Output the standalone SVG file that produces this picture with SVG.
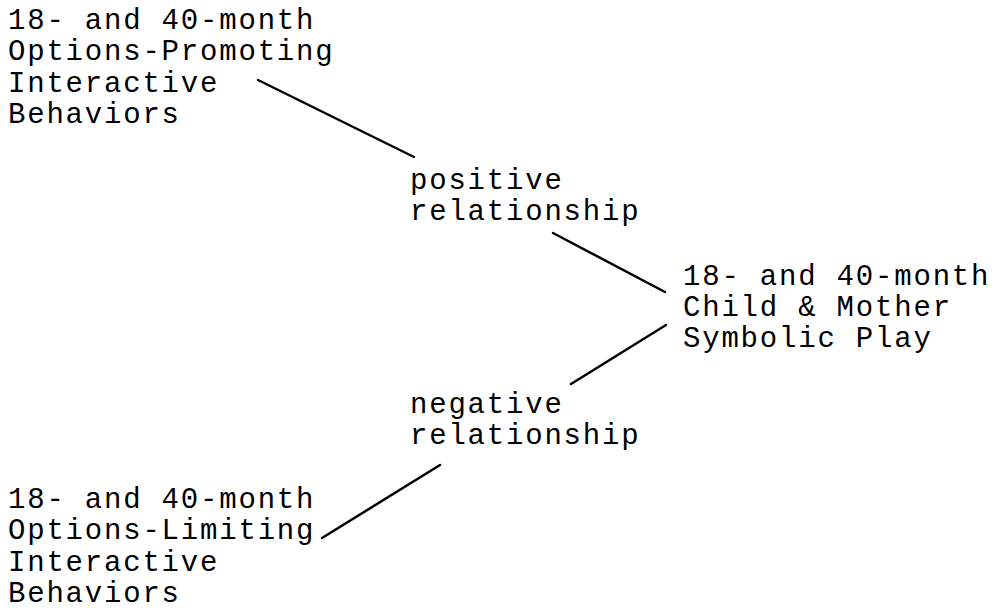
<svg xmlns="http://www.w3.org/2000/svg" width="1003" height="610" viewBox="0 0 1003 610">
<style>
text{font-family:"Liberation Mono","Courier New",monospace;font-size:29px;letter-spacing:1.8px;fill:#000}
.c{stroke:#000;stroke-width:2.5;fill:none;stroke-linecap:round}
</style>
<rect width="1003" height="610" fill="#fff"/>
<g id="promoting">
<text x="8" y="29">18- and 40-month</text>
<text x="8" y="60">Options-Promoting</text>
<text x="8" y="92">Interactive</text>
<text x="8" y="123">Behaviors</text>
</g>
<g id="positive">
<text x="410" y="189">positive</text>
<text x="410" y="220">relationship</text>
</g>
<g id="play">
<text x="683" y="285">18- and 40-month</text>
<text x="683" y="316">Child &amp; Mother</text>
<text x="683" y="347">Symbolic Play</text>
</g>
<g id="negative">
<text x="410" y="413">negative</text>
<text x="410" y="444">relationship</text>
</g>
<g id="limiting">
<text x="8" y="508">18- and 40-month</text>
<text x="8" y="539">Options-Limiting</text>
<text x="8" y="571">Interactive</text>
<text x="8" y="602">Behaviors</text>
</g>
<g id="connectors">
<path class="c" d="M258 80 L414 157"/>
<path class="c" d="M553 233 L665 292"/>
<path class="c" d="M666 325 L571 384"/>
<path class="c" d="M440 465 L322 538"/>
</g>
</svg>
